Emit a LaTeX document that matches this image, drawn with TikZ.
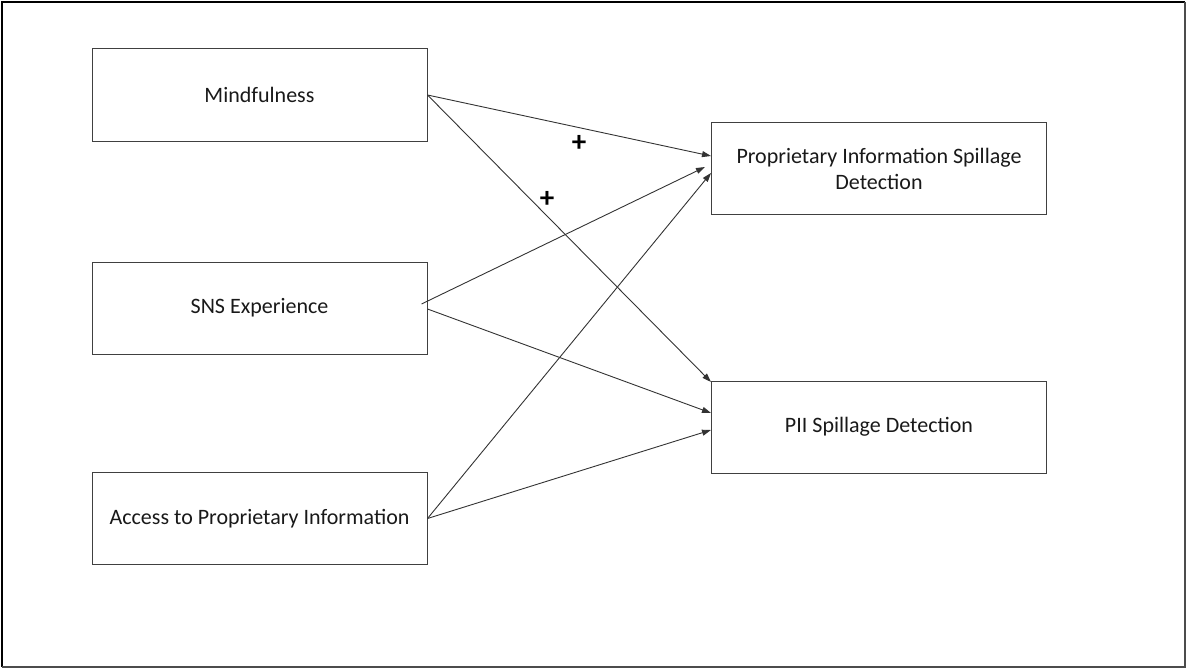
\documentclass[tikz,border=0pt]{standalone}
\usepackage{fontspec}
\setmainfont{Carlito}
\usepackage{tikz}
\usetikzlibrary{arrows.meta, positioning}

\tikzset{
    construct/.style = {draw=black!75, line width=1pt, minimum width=335pt,
                        minimum height=92pt, align=center, inner sep=0pt,
                        text=black!90, font=\fontsize{22}{26}\selectfont},
    path/.style      = {-{Triangle[length=9pt,width=6pt]}, line width=0.9pt, black!80},
    sign/.style      = {font=\fontsize{29}{29}\selectfont\bfseries}
}

\begin{document}
\begin{tikzpicture}[x=1pt, y=-1pt]
    \useasboundingbox (0,0) rectangle (1186,669);
    % frame
    \draw [line width=2pt, black] (2,667) -- (2,2) -- (1185,2);
    \draw [line width=1.5pt, black!70] (1185,2) -- (1185,667) -- (2,667);

    \node (mind) [construct] at (259.5,95)  {Mindfulness};
    \node (sns)  [construct] at (259.5,308) {SNS Experience};
    \node (acc)  [construct] at (259.5,518.5) {Access to Proprietary Information};

    \node (pisd) [construct] at (879,168.5) {Proprietary Information Spillage\\Detection};
    \node (piid) [construct] at (879,427) {PII Spillage Detection};

    \node (plus1) [sign] at (579,143) {+};
    \node (plus2) [sign] at (547,199) {+};

\path [path]
    (mind.east)                 edge ([yshift=12.5pt]pisd.west)
    (mind.east)                 edge ([yshift=45pt]piid.west)
    ([xshift=-6pt,yshift=4pt]sns.east) edge ([xshift=-6pt,yshift=1.5pt]pisd.west)
    ([yshift=-1pt]sns.east)     edge ([yshift=14pt]piid.west)
    (acc.east)                  edge ([yshift=-4.5pt]pisd.west)
    (acc.east)                  edge ([yshift=-3pt]piid.west);

\end{tikzpicture}
\end{document}
